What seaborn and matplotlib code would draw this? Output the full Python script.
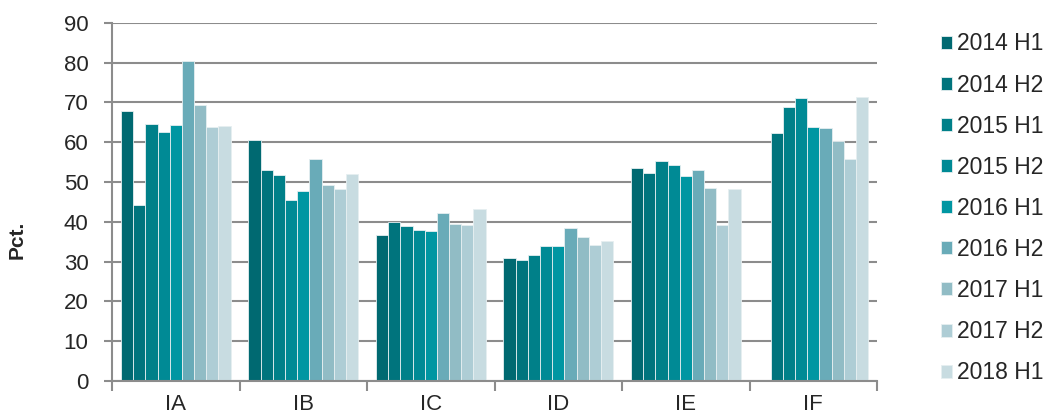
import numpy as np
import pandas as pd
import matplotlib
matplotlib.use("Agg")
import matplotlib.pyplot as plt
import seaborn as sns

# categories and series
groups = ['IA', 'IB', 'IC', 'ID', 'IE', 'IF']
periods = ['2014 H1', '2014 H2', '2015 H1', '2015 H2', '2016 H1',
           '2016 H2', '2017 H1', '2017 H2', '2018 H1']

ia = [67.8, 44.1, 64.6, 62.6, 64.3, 80.3, 69.3, 63.7, 64.1]
ib = [60.5, 53.0, 51.7, 45.5, 47.8, 55.9, 49.2, 48.2, 52.0]
ic = [36.7, 40.0, 38.9, 37.9, 37.6, 42.2, 39.4, 39.3, 43.3]
id_ = [30.8, 30.4, 31.7, 34.0, 34.0, 38.4, 36.3, 34.2, 35.2]
ie = [53.5, 52.2, 55.3, 54.3, 51.6, 53.1, 48.6, 39.2, 48.2]
if_ = [np.nan, 62.2, 68.8, 71.2, 63.8, 63.6, 60.2, 55.7, 71.4]  # no 2014 H1

colors = ['#006971', '#00747d', '#008089', '#008a95', '#0096a2',
          '#69abb8', '#91bcc5', '#aecdd5', '#c8dce1']

values = {'IA': ia, 'IB': ib, 'IC': ic, 'ID': id_, 'IE': ie, 'IF': if_}
rows = []
for g in groups:
    for p, v in zip(periods, values[g]):
        rows.append({'Group': g, 'Period': p, 'Pct': v})
df = pd.DataFrame(rows)

sns.set_theme(style="white")
plt.rcParams['font.family'] = ['Liberation Sans', 'DejaVu Sans']

fs = 16
fig = plt.figure(figsize=(10.49, 4.18), dpi=100)
ax = fig.add_axes([0.1068, 0.0885, 0.7293, 0.857])

sns.barplot(data=df, x='Group', y='Pct', hue='Period', order=groups,
            hue_order=periods, palette=colors, saturation=1, width=0.86,
            edgecolor='#e6eff1', linewidth=0.6, ax=ax)

ax.set_ylim(0, 90)
ax.set_yticks(range(0, 91, 10))
ax.set_xlim(-0.5, 5.5)
ax.yaxis.grid(True, color='#8c8c8c', linewidth=1.5)
ax.set_axisbelow(True)
for s in ['top', 'right']:
    ax.spines[s].set_visible(False)
for s in ['left', 'bottom']:
    ax.spines[s].set_color('#8c8c8c')
    ax.spines[s].set_linewidth(1.5)

ax.set_xticks(range(len(groups)))
ax.set_xticklabels(groups)
ax.tick_params(axis='x', length=0, labelsize=fs, pad=9)
ax.tick_params(axis='y', left=True, length=6, width=1.5, color='#8c8c8c',
               labelsize=fs, pad=11)
# category boundary ticks
ax.set_xticks([i - 0.5 for i in range(len(groups) + 1)], minor=True)
ax.tick_params(axis='x', which='minor', bottom=True, length=7, width=1.5,
               color='#8c8c8c')

ax.set_xlabel('')
ax.set_ylabel('Pct.', fontsize=15, fontweight='bold')
ax.yaxis.set_label_coords(-0.111, 0.394)

leg = ax.legend(loc='upper left', bbox_to_anchor=(1.083, 0.973), frameon=False,
                fontsize=16.5, handlelength=0.5, handleheight=0.5,
                handletextpad=0.22, labelspacing=0.79, borderaxespad=0,
                borderpad=0)

fig.savefig('out.png', dpi=100)
